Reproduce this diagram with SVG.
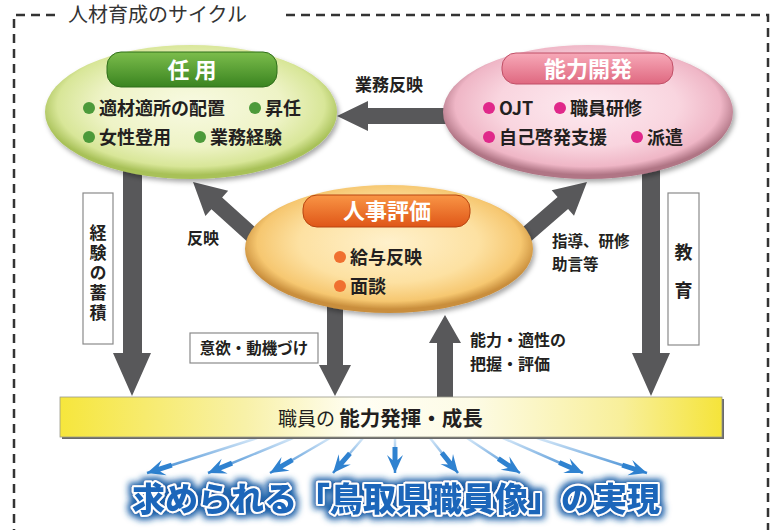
<svg xmlns="http://www.w3.org/2000/svg" width="778" height="530" viewBox="0 0 778 530">
<defs>
<style>
text{font-family:"Noto Sans CJK JP","Noto Sans",sans-serif;fill:#231f20}
.b{font-weight:700}
.item{font-size:18px;font-weight:700}
.pilltxt{font-size:22px;font-weight:700;fill:#fff}
.lbl{font-size:16px;font-weight:700}
.vt{font-weight:700;writing-mode:vertical-rl}
.arr{fill:#58585a}
.box{fill:#fff;stroke:#8a8a8a;stroke-width:1.2}
.dash{fill:none;stroke:#333;stroke-width:2.5;stroke-dasharray:9 6}
.blue{stroke:url(#blg);stroke-width:2.5;marker-end:url(#ba)}
</style>
<radialGradient id="gG" cx="50%" cy="45%" r="52%">
<stop offset="0" stop-color="#f8fae2"/><stop offset="0.6" stop-color="#eef3c6"/><stop offset="0.88" stop-color="#d8e698"/><stop offset="1" stop-color="#a8c158"/>
</radialGradient>
<radialGradient id="gP" cx="50%" cy="45%" r="52%">
<stop offset="0" stop-color="#fdeaf0"/><stop offset="0.6" stop-color="#f9d5df"/><stop offset="0.88" stop-color="#efb6c6"/><stop offset="1" stop-color="#b07585"/>
</radialGradient>
<radialGradient id="gO" cx="50%" cy="45%" r="52%">
<stop offset="0" stop-color="#fff1cc"/><stop offset="0.6" stop-color="#fde1a2"/><stop offset="0.88" stop-color="#f6c770"/><stop offset="1" stop-color="#c98e3c"/>
</radialGradient>
<linearGradient id="pG" x1="0" y1="0" x2="0" y2="1"><stop offset="0" stop-color="#7cbd4c"/><stop offset="1" stop-color="#3a8420"/></linearGradient>
<linearGradient id="pP" x1="0" y1="0" x2="0" y2="1"><stop offset="0" stop-color="#f7a9b8"/><stop offset="1" stop-color="#df6880"/></linearGradient>
<linearGradient id="pO" x1="0" y1="0" x2="0" y2="1"><stop offset="0" stop-color="#f99545"/><stop offset="1" stop-color="#df5618"/></linearGradient>
<linearGradient id="barG" x1="0" y1="0" x2="1" y2="0">
<stop offset="0" stop-color="#f6e63c"/><stop offset="0.28" stop-color="#f8f1a8"/><stop offset="0.45" stop-color="#fffef4"/><stop offset="0.62" stop-color="#fdfbe6"/><stop offset="0.85" stop-color="#f8ef9a"/><stop offset="1" stop-color="#f5e43a"/>
</linearGradient>
<linearGradient id="blg" gradientUnits="userSpaceOnUse" x1="0" y1="438" x2="0" y2="473">
<stop offset="0" stop-color="#d6e8f8"/><stop offset="1" stop-color="#3a88d2"/>
</linearGradient>
<marker id="ba" markerUnits="userSpaceOnUse" markerWidth="30" markerHeight="24" viewBox="-28 -12 30 24" refX="0" refY="0" orient="auto" overflow="visible">
<path d="M0,0 L-18,-8 L-13,-2.5 L-26,-2.5 L-26,2.5 L-13,2.5 L-18,8 Z" fill="#2f82d0"/>
</marker>
<filter id="sh" x="-10%" y="-15%" width="125%" height="140%">
<feDropShadow dx="2" dy="3" stdDeviation="2.5" flood-color="#000" flood-opacity="0.35"/>
</filter>
<filter id="glow" x="-10%" y="-40%" width="120%" height="180%">
<feMorphology in="SourceAlpha" operator="dilate" radius="2.5" result="d"/>
<feGaussianBlur in="d" stdDeviation="3" result="b"/>
<feFlood flood-color="#1a5fa8"/>
<feComposite in2="b" operator="in" result="g"/>
<feMerge><feMergeNode in="g"/><feMergeNode in="SourceGraphic"/></feMerge>
</filter>
</defs>

<g id="frame">
<path class="dash" d="M55,15 H14 V530"/>
<path class="dash" d="M286,15 H768 V530"/>
<text x="68" y="22" style="font-size:20px;fill:#333">人材育成のサイクル</text>
</g>

<g id="connectors">
<polygon class="arr" points="123,165 142,165 142,353 151,353 132,396 113,353 123,353"/>
<polygon class="arr" points="642,165 660,165 660,353 670,353 651,396 632,353 642,353"/>
<polygon class="arr" points="327,300 343,300 343,365 351,365 335,396 319,365 327,365"/>
<polygon class="arr" points="437,397 453,397 453,343 461,343 445,315 429,343 437,343"/>
<polygon class="arr" points="337,116 368,101 368,108 452,108 452,124 368,124 368,131"/>
<polygon class="arr" transform="translate(193,182) rotate(222)" points="0,0 -32,-17 -32,-8 -98,-8 -98,8 -32,8 -32,17"/>
<polygon class="arr" transform="translate(587,182) rotate(-41)" points="0,0 -32,-17 -32,-8 -98,-8 -98,8 -32,8 -32,17"/>
<line class="blue" x1="257" y1="438" x2="147" y2="473"/>
<line class="blue" x1="293" y1="438" x2="208" y2="473"/>
<line class="blue" x1="330" y1="438" x2="270" y2="473"/>
<line class="blue" x1="363" y1="438" x2="333" y2="473"/>
<line class="blue" x1="395" y1="438" x2="395" y2="473"/>
<line class="blue" x1="430" y1="438" x2="458" y2="473"/>
<line class="blue" x1="467" y1="438" x2="520" y2="473"/>
<line class="blue" x1="503" y1="438" x2="583" y2="473"/>
<line class="blue" x1="537" y1="438" x2="647" y2="473"/>
</g>

<g id="node-ninyo">
<ellipse cx="191" cy="112" rx="146" ry="67" fill="url(#gG)" filter="url(#sh)"/>
<rect x="107" y="52" width="170" height="35" rx="14" fill="url(#pG)" stroke="#2f6e1a" stroke-width="1"/>
<text class="pilltxt" x="192" y="78" text-anchor="middle">任 用</text>
<circle cx="89" cy="108" r="6" fill="#4c9a3a"/>
<text class="item" x="99" y="114.5">適材適所の配置</text>
<circle cx="255" cy="108" r="6" fill="#4c9a3a"/>
<text class="item" x="265" y="114.5">昇任</text>
<circle cx="89" cy="137" r="6" fill="#4c9a3a"/>
<text class="item" x="99" y="143.5">女性登用</text>
<circle cx="200" cy="137" r="6" fill="#4c9a3a"/>
<text class="item" x="210" y="143.5">業務経験</text>
</g>

<g id="node-kaihatsu">
<ellipse cx="588" cy="112" rx="145" ry="67" fill="url(#gP)" filter="url(#sh)"/>
<rect x="502" y="53" width="171" height="31" rx="14" fill="url(#pP)" stroke="#c04f66" stroke-width="1"/>
<text class="pilltxt" x="588" y="77" text-anchor="middle">能力開発</text>
<circle cx="489" cy="108" r="6" fill="#e0288a"/>
<text class="item" x="499" y="114.5">OJT</text>
<circle cx="560" cy="108" r="6" fill="#e0288a"/>
<text class="item" x="570" y="114.5">職員研修</text>
<circle cx="489" cy="137" r="6" fill="#e0288a"/>
<text class="item" x="499" y="143.5">自己啓発支援</text>
<circle cx="637" cy="137" r="6" fill="#e0288a"/>
<text class="item" x="647" y="143.5">派遣</text>
</g>

<g id="node-hyoka">
<ellipse cx="389" cy="249" rx="144" ry="64" fill="url(#gO)" filter="url(#sh)"/>
<rect x="303" y="195" width="167" height="32" rx="14" fill="url(#pO)" stroke="#b84510" stroke-width="1"/>
<text class="pilltxt" x="387" y="219" text-anchor="middle">人事評価</text>
<circle cx="340" cy="257" r="6" fill="#f07030"/>
<text class="item" x="350" y="263.5">給与反映</text>
<circle cx="340" cy="286" r="6" fill="#f07030"/>
<text class="item" x="350" y="292.5">面談</text>
</g>

<g id="label-gyomu"><text class="lbl" x="389" y="91" text-anchor="middle" style="font-size:17px">業務反映</text></g>
<g id="label-hanei"><text class="lbl" x="187" y="244">反映</text></g>
<g id="label-shido">
<text class="lbl" x="552" y="247" style="font-size:15.5px">指導、研修</text>
<text class="lbl" x="552" y="270" style="font-size:15.5px">助言等</text>
</g>
<g id="label-noryoku">
<text class="lbl" x="470" y="346">能力・適性の</text>
<text class="lbl" x="470" y="370">把握・評価</text>
</g>
<g id="box-iyoku">
<rect class="box" x="190" y="333" width="128" height="30"/>
<text class="lbl" x="254" y="354" text-anchor="middle" style="font-size:15.5px">意欲・動機づけ</text>
</g>
<g id="box-keiken">
<rect class="box" x="83" y="193" width="30" height="151"/>
<text class="vt" x="98" y="224" style="font-size:17px;letter-spacing:3px">経験の蓄積</text>
</g>
<g id="box-kyoiku">
<rect class="box" x="668" y="193" width="31" height="152"/>
<text class="vt" x="683.5" y="243" style="font-size:18px;letter-spacing:20px">教育</text>
</g>

<g id="node-bar">
<rect x="62" y="399" width="662" height="40" fill="#6a6a6a"/>
<rect x="60" y="397" width="662" height="40" fill="url(#barG)" stroke="#9a9a8a" stroke-width="0.8"/>
<text x="278" y="426" style="font-size:19px">職員の <tspan class="b" style="font-size:20.5px">能力発揮・成長</tspan></text>
</g>

<g id="node-goal">
<text x="396" y="511" text-anchor="middle" filter="url(#glow)" style="font-size:33px;font-weight:900;fill:#1a66ba;stroke:#fff;stroke-width:4;paint-order:stroke;stroke-linejoin:round">求められる「鳥取県職員像」の実現</text>
</g>
</svg>
